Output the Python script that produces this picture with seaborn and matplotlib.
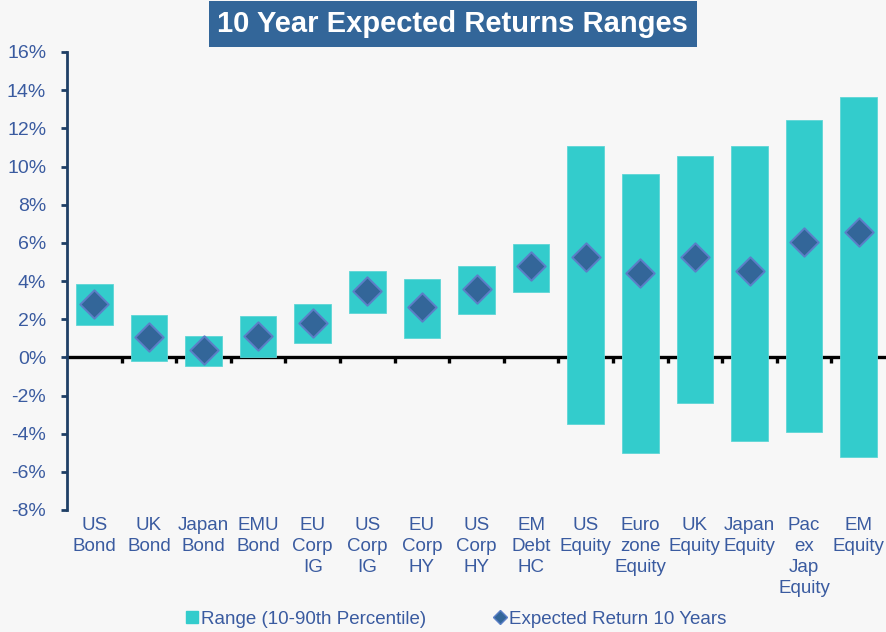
import seaborn as sns
import matplotlib.pyplot as plt
import pandas as pd
from matplotlib.lines import Line2D
from matplotlib.ticker import FuncFormatter

# values (percent)
categories = ["US\nBond", "UK\nBond", "Japan\nBond", "EMU\nBond", "EU\nCorp\nIG", "US\nCorp\nIG",
              "EU\nCorp\nHY", "US\nCorp\nHY", "EM\nDebt\nHC", "US\nEquity", "Euro\nzone\nEquity",
              "UK\nEquity", "Japan\nEquity", "Pac\nex\nJap\nEquity", "EM\nEquity"]
range_low = [1.7, -0.2, -0.45, 0.0, 0.75, 2.3, 1.0, 2.27, 3.43, -3.48, -5.0, -2.38, -4.4, -3.9, -5.2]
range_high = [3.83, 2.2, 1.12, 2.15, 2.8, 4.5, 4.1, 4.78, 5.94, 11.07, 9.6, 10.55, 11.1, 12.43, 13.64]
expected = [2.8, 1.05, 0.38, 1.1, 1.8, 3.45, 2.65, 3.58, 4.78, 5.26, 4.42, 5.26, 4.52, 6.04, 6.56]

df = pd.DataFrame({"cat": categories, "low": range_low, "high": range_high, "exp": expected})
df["span"] = df["high"] - df["low"]

bg = "#F7F7F7"
teal = "#33CCCC"
navy = "#336699"
txt = "#3A5BA0"

sns.set_theme(style="white")
plt.rcParams["font.family"] = ["Liberation Sans", "DejaVu Sans"]

fig = plt.figure(figsize=(8.86, 6.32), dpi=100, facecolor=bg)
ax = fig.add_axes([67 / 886, 1 - 510 / 632, 1 - 67 / 886, (510 - 52) / 632])
ax.set_facecolor(bg)

sns.barplot(data=df, x="cat", y="span", bottom=df["low"], color=teal, saturation=1,
            width=0.67, edgecolor="#5ED6D6", linewidth=0.6, ax=ax, zorder=2)
sns.scatterplot(data=df, x="cat", y="exp", marker="D", s=210, color=navy,
                edgecolor="#5B7FC7", linewidth=1.4, ax=ax, zorder=3, legend=False)

ax.set_ylim(-8, 16)
ax.set_xlim(-0.5, len(categories) - 0.5)
ax.set_yticks(range(-8, 17, 2))
ax.yaxis.set_major_formatter(FuncFormatter(lambda v, p: f"{v:.0f}%"))
ax.set_xlabel("")
ax.set_ylabel("")

for s in ["top", "right", "bottom"]:
    ax.spines[s].set_visible(False)
ax.spines["left"].set_color("#1F3F66")
ax.spines["left"].set_linewidth(2)
ax.tick_params(axis="y", left=True, length=4, width=2, color="#1F3F66",
               labelsize=14, labelcolor=txt, pad=11)
ax.tick_params(axis="x", bottom=False, length=0, labelsize=13.5, labelcolor=txt, pad=5)
for lab in ax.get_xticklabels():
    lab.set_linespacing(1.3)

# zero line with category-boundary ticks
zero = ax.secondary_xaxis(8 / 24)
zero.spines["bottom"].set_color("black")
zero.spines["bottom"].set_linewidth(2.4)
zero.set_xticks([i + 0.5 for i in range(len(categories) - 1)])
zero.tick_params(axis="x", direction="out", length=4, width=2.4, color="black", labelbottom=False)

fig.text(0.511, 0.962, "10 Year Expected Returns Ranges", ha="center", va="center",
         fontsize=21, fontweight="bold", color="white",
         bbox=dict(boxstyle="square,pad=0.3", facecolor=navy, edgecolor="none"))

handles = [Line2D([], [], marker="s", linestyle="none", color=teal, markersize=8),
           Line2D([], [], marker="D", linestyle="none", color=navy, markeredgecolor="#5B7FC7",
                  markersize=7)]
fig.legend(handles, ["Range (10-90th Percentile)", "Expected Return 10 Years"], ncol=2,
           loc="center", bbox_to_anchor=(0.515, 0.02), frameon=False, fontsize=13.5,
           labelcolor=txt, handlelength=0.6, handletextpad=0.2, columnspacing=3.6)

fig.savefig("out.png", dpi=100, facecolor=bg)
